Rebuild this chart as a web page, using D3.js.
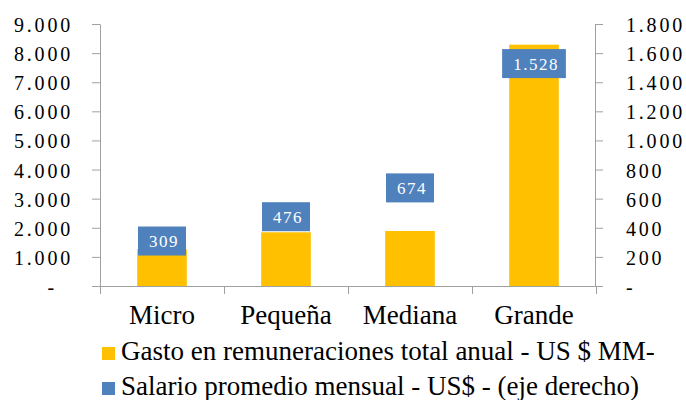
<!DOCTYPE html>
<html>
<head>
<meta charset="utf-8">
<script src="https://cdn.jsdelivr.net/npm/d3@7.9.0/dist/d3.min.js"></script>
</head>
<body style="margin:0">
<script>
const categories = ['Micro', 'Pequeña', 'Mediana', 'Grande'];
const gasto = [1265, 1845, 1890, 8290];      // US$ MM, left axis
const salario = [309, 476, 674, 1528];       // US$, right axis
const leftTicks = [0, 1000, 2000, 3000, 4000, 5000, 6000, 7000, 8000, 9000];
const rightTicks = [0, 200, 400, 600, 800, 1000, 1200, 1400, 1600, 1800];
const seriesNames = [
  'Gasto en remuneraciones total anual - US $ MM-',
  'Salario promedio mensual - US$ - (eje derecho)'
];
const seriesColors = ['#FFC000', '#4F81BD'];

const width = 686, height = 400;
const plot = { left: 100, right: 595, top: 24, bottom: 286 };
const axisColor = '#A0A0A0';

const loc = d3.formatLocale({ decimal: ',', thousands: '.', grouping: [3], currency: ['$', ''] });
const fmt = loc.format(',d');
const fmtTick = d => d === 0 ? '-' : fmt(d);

const svg = d3.select('body')
  .append('svg')
  .attr('width', width)
  .attr('height', height);

const x = d3.scaleBand()
  .domain(categories)
  .range([plot.left, plot.right + 1])
  .paddingInner(0.6)
  .paddingOuter(0.3);

const yL = d3.scaleLinear().domain([0, 9000]).range([plot.bottom, plot.top]);
const yR = d3.scaleLinear().domain([0, 1800]).range([plot.bottom, plot.top]);

// Bars
svg.append('g')
  .selectAll('rect')
  .data(gasto)
  .join('rect')
  .attr('x', (d, i) => x(categories[i]))
  .attr('y', d => yL(d))
  .attr('width', x.bandwidth())
  .attr('height', d => yL(0) - yL(d))
  .attr('fill', seriesColors[0]);

// Axes: keep the lines from d3.axis, redraw the labels as plain text
const gl = svg.append('g')
  .attr('transform', `translate(${plot.left},0)`)
  .call(d3.axisLeft(yL).tickValues(leftTicks).tickFormat('').tickSize(8).tickSizeOuter(0));

const gr = svg.append('g')
  .attr('transform', `translate(${plot.right},0)`)
  .call(d3.axisRight(yR).tickValues(rightTicks).tickFormat('').tickSize(8).tickSizeOuter(0));

[gl, gr].forEach(g => {
  g.selectAll('text').remove();
  g.select('.domain').attr('stroke', axisColor);
  g.selectAll('.tick line').attr('stroke', axisColor);
});

svg.append('g')
  .selectAll('text')
  .data(leftTicks)
  .join('text')
  .attr('x', d => d === 0 ? 57 : 73)
  .attr('y', d => yL(d) + 8)
  .attr('text-anchor', 'end')
  .style('font-family', '"Liberation Serif"')
  .style('font-size', '20px')
  .style('letter-spacing', '2.8px')
  .text(fmtTick);

svg.append('g')
  .selectAll('text')
  .data(rightTicks)
  .join('text')
  .attr('x', 626)
  .attr('y', d => yR(d) + 8)
  .style('font-family', '"Liberation Serif"')
  .style('font-size', '20px')
  .style('letter-spacing', '2.8px')
  .text(fmtTick);

// Category axis
svg.append('line')
  .attr('x1', plot.left - 8).attr('x2', plot.right + 8)
  .attr('y1', plot.bottom + 0.5).attr('y2', plot.bottom + 0.5)
  .attr('stroke', axisColor);

const step = x.step();
svg.append('g')
  .selectAll('line')
  .data(d3.range(categories.length + 1))
  .join('line')
  .attr('x1', i => plot.left + i * step + 0.5)
  .attr('x2', i => plot.left + i * step + 0.5)
  .attr('y1', plot.bottom)
  .attr('y2', plot.bottom + 8)
  .attr('stroke', axisColor);

svg.append('g')
  .selectAll('text')
  .data(categories)
  .join('text')
  .attr('x', d => x(d) + x.bandwidth() / 2)
  .attr('y', 324)
  .attr('text-anchor', 'middle')
  .style('font-family', '"Liberation Serif"')
  .style('font-size', '27px')
  .text(d => d);

// Salary markers with labels
const labels = svg.append('g')
  .selectAll('g')
  .data(salario)
  .join('g')
  .attr('transform', (d, i) => `translate(${x(categories[i]) + x.bandwidth() / 2},${yR(d)})`);

labels.append('text')
  .attr('x', 2)
  .attr('y', 6)
  .attr('text-anchor', 'middle')
  .style('font-family', '"Liberation Serif"')
  .style('font-size', '17px')
  .style('letter-spacing', '1.5px')
  .style('fill', '#fff')
  .text(d => fmt(d));

labels.each(function () {
  const g = d3.select(this);
  const w = g.select('text').node().getComputedTextLength() + 18;
  g.insert('rect', 'text')
    .attr('x', -w / 2)
    .attr('y', -14.5)
    .attr('width', w)
    .attr('height', 29)
    .attr('fill', seriesColors[1]);
});

// Legend
const legend = svg.append('g')
  .selectAll('g')
  .data(seriesNames)
  .join('g')
  .attr('transform', (d, i) => `translate(102,${347 + i * 35})`);

legend.append('rect')
  .attr('width', 13)
  .attr('height', 13)
  .attr('fill', (d, i) => seriesColors[i]);

legend.append('text')
  .attr('x', 19)
  .attr('y', 13)
  .style('font-family', '"Liberation Serif"')
  .style('font-size', '27px')
  .text(d => d);
</script>
</body>
</html>
